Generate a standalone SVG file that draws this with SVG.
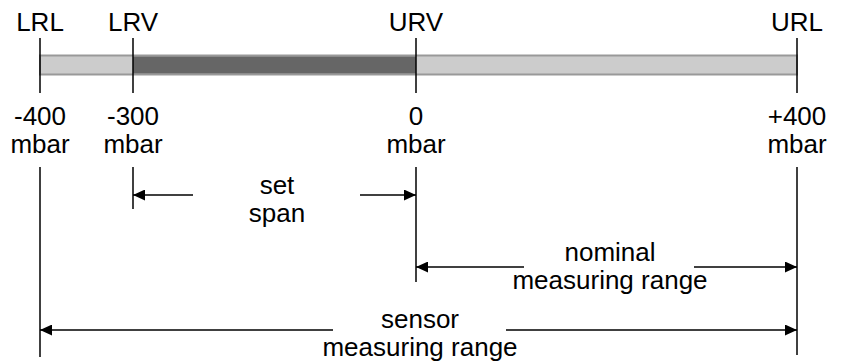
<svg xmlns="http://www.w3.org/2000/svg" width="845" height="363" viewBox="0 0 845 363">
<defs>
<style>
text{font-family:"Liberation Sans",Arial,sans-serif;font-size:26px;fill:#000;text-anchor:middle}
.tick{stroke:#000;stroke-width:1.5;fill:none}
.dim{stroke:#000;stroke-width:1.5;fill:none;marker-end:url(#ah)}
</style>
<marker id="ah" viewBox="0 0 12 11" refX="12" refY="5.5" markerWidth="12" markerHeight="11" markerUnits="userSpaceOnUse" orient="auto">
<path d="M0,0 L12,5.5 L0,11 Z" fill="#000"/>
</marker>
</defs>
<rect width="845" height="363" fill="#fff"/>
<g id="bar">
<rect x="40" y="55.5" width="757" height="19" fill="#ccc" stroke="#999" stroke-width="2"/>
<rect x="133" y="56.5" width="283" height="17" fill="#666"/>
</g>
<g id="LRL">
<text x="40" y="31">LRL</text>
<line class="tick" x1="40" y1="38" x2="40" y2="93"/>
<text x="40" y="125">-400</text>
<text x="40" y="153">mbar</text>
<line class="tick" x1="40" y1="167" x2="40" y2="357"/>
</g>
<g id="LRV">
<text x="133" y="31">LRV</text>
<line class="tick" x1="133" y1="38" x2="133" y2="93"/>
<text x="133" y="125">-300</text>
<text x="133" y="153">mbar</text>
<line class="tick" x1="133" y1="167" x2="133" y2="209"/>
</g>
<g id="URV">
<text x="416" y="31">URV</text>
<line class="tick" x1="416" y1="38" x2="416" y2="93"/>
<text x="416" y="125">0</text>
<text x="416" y="153">mbar</text>
<line class="tick" x1="416" y1="167" x2="416" y2="282"/>
</g>
<g id="URL">
<text x="797" y="31">URL</text>
<line class="tick" x1="797" y1="38" x2="797" y2="93"/>
<text x="797" y="125">+400</text>
<text x="797" y="153">mbar</text>
<line class="tick" x1="797" y1="167" x2="797" y2="355"/>
</g>
<g id="set-span">
<text x="277" y="194">set</text>
<text x="277" y="222">span</text>
</g>
<g id="nominal-range">
<text x="610" y="261">nominal</text>
<text x="610" y="289">measuring range</text>
</g>
<g id="sensor-range">
<text x="420" y="328">sensor</text>
<text x="420" y="356">measuring range</text>
</g>
<g id="connectors">
<line class="dim" x1="193" y1="195" x2="133" y2="195"/>
<line class="dim" x1="360" y1="195" x2="416" y2="195"/>
<line class="dim" x1="524" y1="267" x2="416" y2="267"/>
<line class="dim" x1="694" y1="267" x2="797" y2="267"/>
<line class="dim" x1="333" y1="330" x2="40" y2="330"/>
<line class="dim" x1="506" y1="330" x2="797" y2="330"/>
</g>
</svg>
